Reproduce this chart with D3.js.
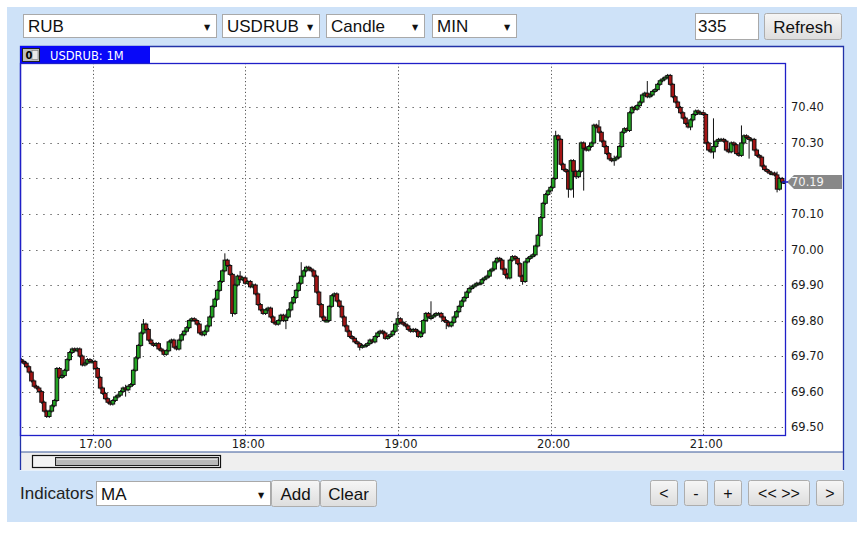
<!DOCTYPE html>
<html><head><meta charset="utf-8">
<script src="https://cdn.jsdelivr.net/npm/d3@7"></script>
<style>body{margin:0;background:#fff;}svg{display:block;}</style>
</head><body><svg id="c" width="867" height="533"></svg>
<script>
// ---------- data ----------
const periodLabel = "USDRUB: 1M";
const startTime = "16:32";
const firstOpen = 69.69;
const closes = [
69.685,69.68,69.67,69.655,69.63,69.615,69.61,69.60,69.57,69.545,
69.53,69.545,69.56,69.575,69.665,69.64,69.645,69.66,69.69,69.71,
69.72,69.715,69.72,69.70,69.675,69.68,69.69,69.685,69.685,69.665,
69.64,69.61,69.595,69.58,69.57,69.565,69.575,69.585,69.59,69.60,
69.61,69.605,69.615,69.62,69.66,69.695,69.73,69.765,69.79,69.775,
69.745,69.735,69.73,69.735,69.72,69.715,69.705,69.715,69.74,69.745,
69.725,69.72,69.745,69.76,69.77,69.78,69.80,69.805,69.80,69.79,
69.765,69.76,69.77,69.785,69.81,69.84,69.86,69.885,69.91,69.94,
69.97,69.955,69.93,69.82,69.90,69.925,69.915,69.92,69.905,69.91,
69.895,69.90,69.875,69.845,69.83,69.82,69.83,69.835,69.81,69.795,
69.79,69.80,69.815,69.80,69.81,69.83,69.85,69.865,69.885,69.905,
69.925,69.94,69.95,69.945,69.94,69.925,69.88,69.845,69.81,69.80,
69.80,69.84,69.87,69.875,69.855,69.84,69.81,69.785,69.77,69.755,
69.75,69.74,69.735,69.725,69.73,69.73,69.735,69.745,69.74,69.755,
69.765,69.77,69.765,69.75,69.755,69.76,69.77,69.79,69.805,69.795,
69.79,69.785,69.775,69.77,69.775,69.77,69.755,69.765,69.80,69.82,
69.81,69.81,69.815,69.82,69.82,69.81,69.80,69.795,69.785,69.795,
69.81,69.825,69.84,69.855,69.865,69.88,69.89,69.895,69.90,69.905,
69.905,69.915,69.92,69.925,69.94,69.945,69.965,69.975,69.97,69.945,
69.93,69.92,69.97,69.98,69.975,69.96,69.925,69.91,69.965,69.975,
69.98,69.985,70.01,70.04,70.09,70.13,70.155,70.165,70.175,70.20,
70.32,70.31,70.24,70.225,70.22,70.17,70.25,70.22,70.205,70.22,
70.30,70.285,70.28,70.29,70.30,70.35,70.345,70.33,70.305,70.29,
70.27,70.255,70.25,70.255,70.26,70.29,70.33,70.34,70.335,70.385,
70.40,70.395,70.405,70.415,70.435,70.44,70.43,70.435,70.445,70.45,
70.465,70.475,70.48,70.485,70.49,70.465,70.43,70.415,70.40,70.385,
70.37,70.355,70.345,70.365,70.38,70.39,70.385,70.385,70.38,70.30,
70.28,70.275,70.29,70.305,70.31,70.31,70.305,70.28,70.275,70.30,
70.295,70.27,70.265,70.30,70.32,70.315,70.31,70.31,70.28,70.265,
70.26,70.235,70.225,70.22,70.215,70.215,70.21,70.17,70.20,70.19,
70.19];
// notable wicks: [candle index, high, low]
const wicks = [[41,69.615,69.59],[48,69.80,69.785],[80,69.985,69.94],[83,69.93,69.815],[86,69.935,69.91],
[104,69.815,69.78],[110,69.96,69.905],[133,69.735,69.72],[148,69.82,69.79],[161,69.85,69.805],[167,69.80,69.78],
[197,69.925,69.905],[210,70.33,70.20],[215,70.22,70.15],[217,70.25,70.15],[221,70.30,70.17],[227,70.36,70.33],
[233,70.26,70.24],[246,70.47,70.43],[263,70.365,70.34],[272,70.365,70.26],[283,70.345,70.265],[286,70.315,70.26],
[297,70.215,70.165]];
const yTicks = [69.50,69.60,69.70,69.80,69.90,70.00,70.10,70.20,70.30,70.40];
const xTicks = ["17:00","18:00","19:00","20:00","21:00"];
const lastPrice = 70.19;
const topSelects = ["RUB","USDRUB","Candle","MIN"];
const countValue = "335";
const navButtons = ["<","-","+","<< >>",">"];

// ---------- scales ----------
const parse = d3.timeParse("%H:%M");
const t0 = parse(startTime);
const times = closes.map((c,i)=>d3.timeMinute.offset(t0,i));
const x = d3.scaleTime()
  .domain([new Date(+t0-30000), new Date(+times[times.length-1]+30000)])
  .range([20,786]);
const y = d3.scaleLinear().domain([69.475,70.525]).range([436,63]);

const svg = d3.select("#c");
const FONT = "'Liberation Sans', Arial, sans-serif";
const AX = "'DejaVu Sans', Verdana, sans-serif";

// background panel
svg.append("rect").attr("x",7).attr("y",7).attr("width",850).attr("height",515).attr("fill","#cee2f8");

const defs = svg.append("defs");
const g1 = defs.append("linearGradient").attr("id","btn").attr("x1",0).attr("y1",0).attr("x2",0).attr("y2",1);
g1.append("stop").attr("offset","0%").attr("stop-color","#f6f6f6");
g1.append("stop").attr("offset","100%").attr("stop-color","#dddddd");
defs.append("clipPath").attr("id","plotclip").append("rect").attr("x",20).attr("y",63).attr("width",766).attr("height",373);

function selectBox(x0,y0,w,h,label){
  svg.append("rect").attr("x",x0+0.5).attr("y",y0+0.5).attr("width",w-1).attr("height",h-1)
    .attr("fill","#fff").attr("stroke","#a9a9a9");
  svg.append("text").attr("x",x0+5).attr("y",y0+h/2+6).attr("font-family",FONT).attr("font-size",17)
    .attr("fill","#111").text(label);
  svg.append("text").attr("x",x0+w-10).attr("y",y0+h/2+4).attr("text-anchor","middle")
    .attr("font-family",AX).attr("font-size",8).attr("fill","#111").text("▼");
}
function button(x0,y0,w,h,label,fs){
  svg.append("rect").attr("x",x0+0.5).attr("y",y0+0.5).attr("width",w-1).attr("height",h-1).attr("rx",2)
    .attr("fill","url(#btn)").attr("stroke","#adadad");
  svg.append("text").attr("x",x0+w/2).attr("y",y0+h/2+6).attr("text-anchor","middle")
    .attr("font-family",FONT).attr("font-size",fs||17).attr("fill","#111").text(label);
}

// top controls
const selPos = [[23,14,194,24],[222,14,98,24],[326,14,99,24],[432,14,85,24]];
topSelects.forEach((s,i)=>selectBox(...selPos[i],s));
svg.append("rect").attr("x",695.5).attr("y",13.5).attr("width",63).attr("height",26).attr("fill","#fff").attr("stroke","#a9a9a9");
svg.append("text").attr("x",698).attr("y",32).attr("font-family",FONT).attr("font-size",17).attr("fill","#111").text(countValue);
button(764,13,78,27,"Refresh");

// chart frame
svg.append("rect").attr("x",20).attr("y",46.5).attr("width",824).attr("height",424).attr("fill","#fff");
svg.append("rect").attr("x",20).attr("y",452).attr("width",824).attr("height",18).attr("fill","#efefef");
svg.append("line").attr("x1",20).attr("x2",844).attr("y1",452).attr("y2",452).attr("stroke","#3a5a9c").attr("stroke-width",1.2);
svg.append("path").attr("d","M20.5,470 V46.5 H843.5 V470").attr("fill","none").attr("stroke","#2233a8").attr("stroke-width",1.3);

// header
svg.append("rect").attr("x",20).attr("y",46).attr("width",130).attr("height",17).attr("fill","#0808f8");
svg.append("rect").attr("x",22.5).attr("y",48.5).attr("width",17).attr("height",13).attr("fill","#bdbdbd").attr("stroke","#222");
svg.append("rect").attr("x",32).attr("y",50.5).attr("width",6).attr("height",9).attr("fill","#e8e8e8").attr("stroke","#777").attr("stroke-width",0.6);
svg.append("text").attr("x",25.5).attr("y",59).attr("font-family",AX).attr("font-size",10).attr("font-weight","bold").attr("fill","#000").text("0");
svg.append("text").attr("x",50).attr("y",59.5).attr("font-family",AX).attr("font-size",11.5).attr("fill","#fff").text(periodLabel);

// grid
const gGrid = svg.append("g");
yTicks.forEach(v=>{
  gGrid.append("line").attr("x1",22).attr("x2",786).attr("y1",Math.round(y(v))+0.5).attr("y2",Math.round(y(v))+0.5)
    .attr("stroke","#555").attr("stroke-width",1).attr("stroke-dasharray","1.3,5.8");
});
xTicks.forEach(s=>{
  const xv = Math.round(x(parse(s)))+0.5;
  gGrid.append("line").attr("x1",xv).attr("x2",xv).attr("y1",63).attr("y2",436)
    .attr("stroke","#555").attr("stroke-width",1).attr("stroke-dasharray","1.2,2.4");
});

// candles
const wmap = new Map(wicks.map(w=>[w[0],w]));
const candles = closes.map((c,i)=>{
  const o = i===0 ? firstOpen : closes[i-1];
  const w = wmap.get(i);
  const hi = w ? Math.max(w[1],o,c) : Math.max(o,c);
  const lo = w ? Math.min(w[2],o,c) : Math.min(o,c);
  return {t:times[i],o,c,hi,lo};
});
const gC = svg.append("g").attr("clip-path","url(#plotclip)");
gC.selectAll("line.wick").data(candles).join("line").attr("class","wick")
  .attr("x1",d=>x(d.t)).attr("x2",d=>x(d.t)).attr("y1",d=>y(d.hi)-1.5).attr("y2",d=>y(d.lo)+1.5)
  .attr("stroke","#111").attr("stroke-width",1);
gC.selectAll("rect.body").data(candles).join("rect").attr("class","body")
  .attr("x",d=>x(d.t)-1.8).attr("width",3.6)
  .attr("y",d=>y(Math.max(d.o,d.c))).attr("height",d=>Math.max(1.5,Math.abs(y(d.o)-y(d.c))))
  .attr("fill",d=>d.c>=d.o?"#22a322":"#a51515").attr("stroke","#111").attr("stroke-width",1);

// plot border
svg.append("rect").attr("x",20.5).attr("y",63.5).attr("width",765).attr("height",372).attr("fill","none")
  .attr("stroke","#1f1fc8").attr("stroke-width",1.3);

// y labels (the one hidden under the last-price marker is not drawn)
const yp = y(lastPrice);
yTicks.filter(v=>Math.abs(y(v)-yp)>8).forEach(v=>{
  svg.append("text").attr("x",791).attr("y",y(v)+4).attr("font-family",AX).attr("font-size",11.5)
    .attr("fill","#1a1a1a").text(v.toFixed(2));
});
// last price marker
svg.append("path").attr("d",`M787,${yp} L794,${yp-7} H842 V${yp+7} H794 Z`).attr("fill","#888");
svg.append("line").attr("x1",782).attr("x2",788).attr("y1",yp).attr("y2",yp).attr("stroke","#1f1fc8").attr("stroke-width",1.5);
svg.append("text").attr("x",791).attr("y",yp+4).attr("font-family",AX).attr("font-size",11.5).attr("fill","#f4f4f4").text(lastPrice.toFixed(2));

// x labels
xTicks.forEach(s=>{
  svg.append("text").attr("x",x(parse(s))+3).attr("y",448).attr("text-anchor","middle")
    .attr("font-family",AX).attr("font-size",11.5).attr("fill","#1a1a1a").text(s);
});

// scrollbar
svg.append("rect").attr("x",32.5).attr("y",455.5).attr("width",188).attr("height",12).attr("fill","#f3f3f3").attr("stroke","#111").attr("stroke-width",1.2);
svg.append("rect").attr("x",55.5).attr("y",457.5).attr("width",163).attr("height",8).attr("fill","#b9b9b9").attr("stroke","#222").attr("stroke-width",1);
svg.append("line").attr("x1",57).attr("x2",217).attr("y1",459.5).attr("y2",459.5).attr("stroke","#dcdcdc");

// bottom controls
svg.append("text").attr("x",20).attr("y",499).attr("font-family",FONT).attr("font-size",17).attr("fill","#222").text("Indicators");
selectBox(96,481,175,25,"MA");
button(271,480,49,27,"Add");
button(320,480,57,27,"Clear");
const navPos = [[650,480,28,26],[684,480,24,26],[714,480,28,26],[748,480,62,26],[816,480,28,26]];
navButtons.forEach((b,i)=>button(...navPos[i],b,16));
</script></body></html>
